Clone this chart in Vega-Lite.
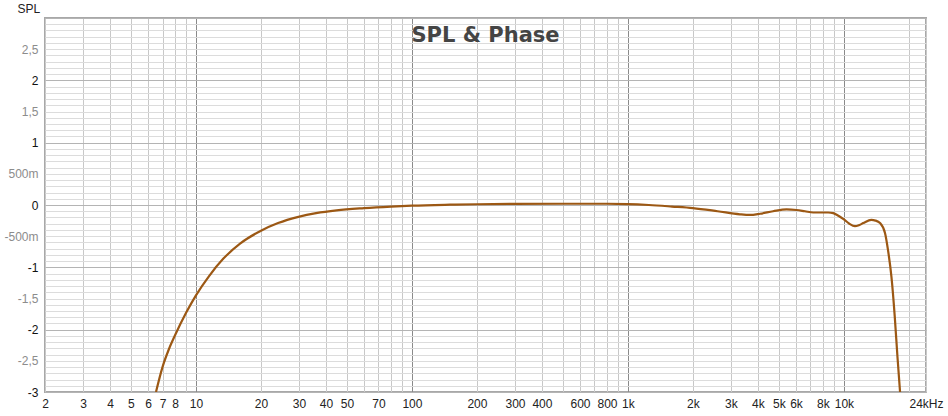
{
  "$schema": "https://vega.github.io/schema/vega-lite/v6.json",
  "autosize": "none",
  "padding": {"left": 45, "top": 18, "right": 22, "bottom": 24},
  "width": 881,
  "height": 374,
  "background": "white",
  "config": {
    "view": {"stroke": "#a8a8a8", "strokeWidth": 2},
    "font": "Liberation Sans"
  },
  "title": {
    "text": "SPL & Phase",
    "font": "DejaVu Sans",
    "fontSize": 21,
    "fontWeight": "bold",
    "color": "#444444",
    "anchor": "middle",
    "frame": "group",
    "baseline": "alphabetic",
    "offset": 0,
    "dy": 61
  },
  "data": {
    "values": [
      {"freq": 6.53, "spl": -3.0},
      {"freq": 7.0, "spl": -2.6},
      {"freq": 7.5, "spl": -2.31},
      {"freq": 8.0, "spl": -2.09},
      {"freq": 9.0, "spl": -1.73},
      {"freq": 10, "spl": -1.45},
      {"freq": 11.5, "spl": -1.14},
      {"freq": 13.4, "spl": -0.86},
      {"freq": 16, "spl": -0.62},
      {"freq": 19.8, "spl": -0.42},
      {"freq": 24, "spl": -0.29},
      {"freq": 29.8, "spl": -0.19},
      {"freq": 36, "spl": -0.13},
      {"freq": 44.8, "spl": -0.085},
      {"freq": 60, "spl": -0.05},
      {"freq": 80, "spl": -0.025},
      {"freq": 100, "spl": -0.01},
      {"freq": 150, "spl": 0.005},
      {"freq": 200, "spl": 0.012},
      {"freq": 300, "spl": 0.018},
      {"freq": 500, "spl": 0.02},
      {"freq": 800, "spl": 0.02},
      {"freq": 1000, "spl": 0.015},
      {"freq": 1250, "spl": 0.0},
      {"freq": 1600, "spl": -0.025},
      {"freq": 2000, "spl": -0.05},
      {"freq": 2600, "spl": -0.10},
      {"freq": 3300, "spl": -0.15},
      {"freq": 3670, "spl": -0.16},
      {"freq": 4090, "spl": -0.14},
      {"freq": 4700, "spl": -0.10},
      {"freq": 5430, "spl": -0.07},
      {"freq": 6040, "spl": -0.08},
      {"freq": 6600, "spl": -0.10},
      {"freq": 7210, "spl": -0.12},
      {"freq": 7740, "spl": -0.12},
      {"freq": 8460, "spl": -0.12},
      {"freq": 8930, "spl": -0.13},
      {"freq": 9300, "spl": -0.16},
      {"freq": 10000, "spl": -0.23},
      {"freq": 10600, "spl": -0.30},
      {"freq": 11250, "spl": -0.34},
      {"freq": 11800, "spl": -0.32},
      {"freq": 12300, "spl": -0.29},
      {"freq": 13400, "spl": -0.24},
      {"freq": 14000, "spl": -0.25},
      {"freq": 14700, "spl": -0.29},
      {"freq": 15500, "spl": -0.45},
      {"freq": 16000, "spl": -0.72},
      {"freq": 16600, "spl": -1.15},
      {"freq": 17200, "spl": -1.79},
      {"freq": 17700, "spl": -2.43},
      {"freq": 18200, "spl": -3.0}
    ]
  },
  "mark": {"type": "line", "color": "#9c5814", "strokeWidth": 2.2, "interpolate": "monotone", "clip": true},
  "encoding": {
    "x": {
      "field": "freq",
      "type": "quantitative",
      "scale": {"type": "log", "domain": [2, 24000], "nice": false},
      "axis": {
        "title": null,
        "domain": false,
        "ticks": false,
        "labelPadding": 6,
        "labelFontSize": 12,
        "labelColor": "#222222",
        "labelOverlap": false,
        "labelFlush": false,
        "values": [2,3,4,5,6,7,8,9,10,20,30,40,50,60,70,80,90,100,200,300,400,500,600,700,800,900,1000,2000,3000,4000,5000,6000,7000,8000,9000,10000,20000,24000],
        "labelExpr": "indexof([2,3,4,5,6,7,8,10,20,30,40,50,70,100,200,300,400,600,800,1000,2000,3000,4000,5000,6000,8000,10000,24000], datum.value) >= 0 ? (datum.value == 24000 ? '24kHz' : (datum.value >= 1000 ? (datum.value / 1000) + 'k' : '' + datum.value)) : ''",
        "gridColor": {"condition": {"test": "datum.value == 10 || datum.value == 100 || datum.value == 1000 || datum.value == 10000", "value": "#8a8a8a"}, "value": "#c8c8c8"},
        "gridWidth": 1
      }
    },
    "y": {
      "field": "spl",
      "type": "quantitative",
      "scale": {"domain": [-3, 3], "nice": false},
      "axis": {
        "title": "SPL",
        "titleAngle": 0,
        "titleAlign": "left",
        "titleBaseline": "middle",
        "titleX": -28,
        "titleY": -10,
        "titleFontSize": 12,
        "titleFontWeight": "normal",
        "titleColor": "#222222",
        "domain": false,
        "ticks": false,
        "labelPadding": 7,
        "labelFontSize": 12,
        "labelOverlap": false,
        "labelFlush": false,
        "values": [-3,-2.9,-2.8,-2.7,-2.6,-2.5,-2.4,-2.3,-2.2,-2.1,-2,-1.9,-1.8,-1.7,-1.6,-1.5,-1.4,-1.3,-1.2,-1.1,-1,-0.9,-0.8,-0.7,-0.6,-0.5,-0.4,-0.3,-0.2,-0.1,0,0.1,0.2,0.3,0.4,0.5,0.6,0.7,0.8,0.9,1,1.1,1.2,1.3,1.4,1.5,1.6,1.7,1.8,1.9,2,2.1,2.2,2.3,2.4,2.5,2.6,2.7,2.8,2.9,3],
        "labelExpr": "(abs(datum.value * 2 - round(datum.value * 2)) > 0.001 || datum.value > 2.9) ? '' : (abs(datum.value - round(datum.value)) < 0.001 ? '' + round(datum.value) : (datum.value == 0.5 ? '500m' : (datum.value == -0.5 ? '-500m' : replace('' + datum.value, '.', ','))))",
        "labelColor": {"condition": {"test": "abs(datum.value - round(datum.value)) < 0.001", "value": "#111111"}, "value": "#8c8c8c"},
        "gridColor": {"condition": {"test": "abs(datum.value - round(datum.value)) < 0.001", "value": "#b4b4b4"}, "value": "#dcdcdc"},
        "gridWidth": 1
      }
    }
  }
}
